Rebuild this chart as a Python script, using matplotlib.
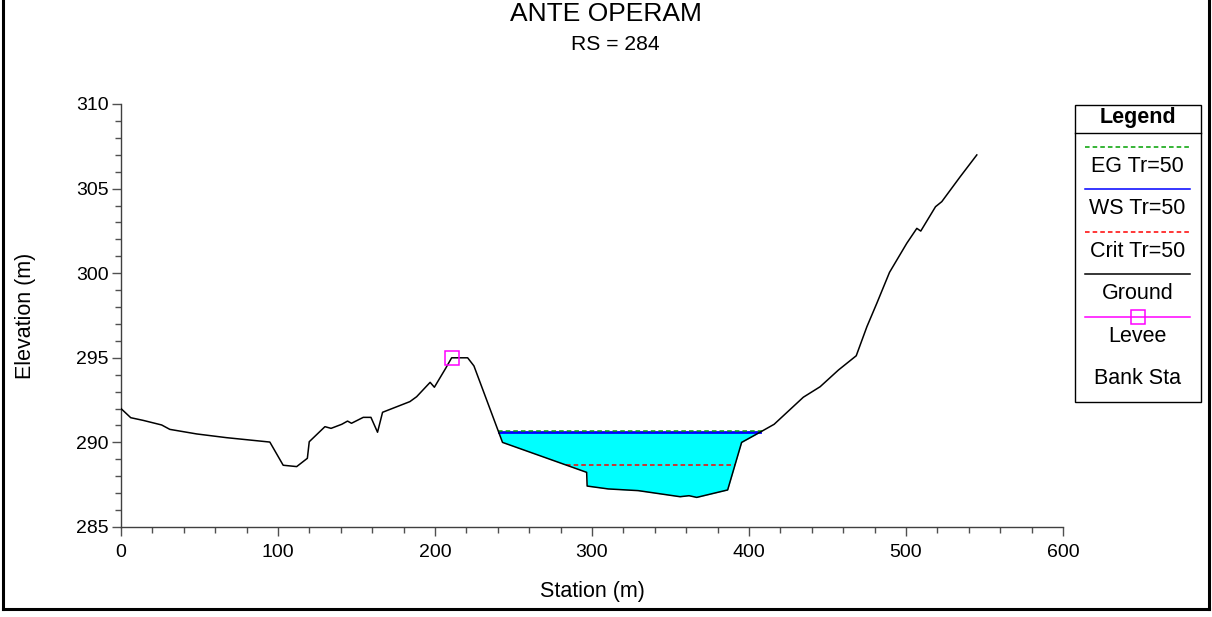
import numpy as np
import matplotlib
matplotlib.use("Agg")
import matplotlib.pyplot as plt
from matplotlib.lines import Line2D
from matplotlib.patches import Rectangle

plt.rcParams['font.family'] = ['Liberation Sans', 'DejaVu Sans']

# ---------------- data ----------------
title = "ANTE OPERAM"
subtitle = "RS = 284"
station = [0, 6.2, 14.2, 25.9, 31.1, 48.2, 67.2, 94.8, 103.3, 111.9, 118.7, 119.9,
           129.9, 133.8, 140.6, 144.3, 146.8, 154.3, 159.2, 163.4, 166.6, 184.0,
           188.3, 196.9, 199.6, 206.8, 210.6, 220.8, 224.8, 243.0, 296.6, 296.9,
           310.3, 329.4, 356.1, 361.8, 366.7, 386.4, 395.3, 407.0, 416.0, 434.6,
           445.3, 457.0, 468.3, 475.1, 481.4, 489.5, 500.5, 506.9, 509.4, 518.8,
           522.8, 534.5, 545.1]
ground = [292.0, 291.46, 291.3, 291.03, 290.77, 290.5, 290.28, 290.02, 288.65,
          288.57, 289.06, 290.04, 290.93, 290.83, 291.07, 291.26, 291.13, 291.48,
          291.48, 290.6, 291.78, 292.41, 292.7, 293.55, 293.26, 294.38, 295.0,
          295.0, 294.52, 290.0, 288.23, 287.42, 287.25, 287.15, 286.79, 286.85,
          286.75, 287.19, 290.0, 290.6, 291.07, 292.67, 293.29, 294.28, 295.12,
          296.84, 298.22, 300.05, 301.77, 302.65, 302.49, 303.93, 304.23, 305.70,
          306.99]
ws_elev = 290.60
eg_elev = 290.69
crit_elev = 288.66
channel_range = (230.0, 420.0)
levee_sta = [210.6]
levee_elev = [295.0]
legend_labels = ["EG Tr=50", "WS Tr=50", "Crit Tr=50", "Ground", "Levee", "Bank Sta"]

sta = np.array(station)
gr = np.array(ground)


def crossings(level):
    """Left/right stations where ground crosses level inside the channel."""
    lo, hi = channel_range
    xs = []
    for i in range(len(sta) - 1):
        x0, x1, y0, y1 = sta[i], sta[i + 1], gr[i], gr[i + 1]
        if x1 < lo or x0 > hi:
            continue
        if (y0 - level) * (y1 - level) <= 0 and y0 != y1:
            xs.append(x0 + (level - y0) * (x1 - x0) / (y1 - y0))
    return min(xs), max(xs)


# ---------------- figure ----------------
W, H = 1212, 617
fig = plt.figure(figsize=(W / 100, H / 100), dpi=100)
ax = fig.add_axes([121 / W, 1 - 527 / H, (1063 - 121) / W, (527 - 104) / H])

# water area
wl, wr = crossings(ws_elev)
xf = np.concatenate([[wl], sta[(sta > wl) & (sta < wr)], [wr]])
yf = np.interp(xf, sta, gr)
ax.fill_between(xf, yf, ws_elev, color='#00FFFF', lw=0, zorder=1)

ax.plot([wl, wr], [ws_elev, ws_elev], color='#0000FF', lw=2, zorder=3)
el, er = crossings(eg_elev)
ax.plot([el, er], [eg_elev, eg_elev], color='#00A000', lw=1.1,
        ls=(0, (3, 2)), zorder=4)
cl, cr = crossings(crit_elev)
ax.plot([cl, cr], [crit_elev, crit_elev], color='#FF0000', lw=1.1,
        ls=(0, (3, 2)), zorder=4)

ax.plot(sta, gr, color='black', lw=1.1, zorder=5)
ax.plot(levee_sta, levee_elev, ls='none', marker='s', ms=9.6, mfc='none',
        mec='#FF00FF', mew=1.1, zorder=6)

ax.set_xlim(0, 600)
ax.set_ylim(285, 310)
ax.set_xticks(np.arange(0, 601, 100))
ax.set_xticks(np.arange(0, 601, 20), minor=True)
ax.set_yticks(np.arange(285, 311, 5))
ax.set_yticks(np.arange(285, 311, 1), minor=True)
for s in ['top', 'right']:
    ax.spines[s].set_visible(False)
for s in ['left', 'bottom']:
    ax.spines[s].set_color('#404040')
    ax.spines[s].set_linewidth(1.0)
ax.tick_params(which='major', length=6.5, width=1, color='#505050', labelsize=14)
ax.tick_params(which='minor', length=4.2, width=1, color='#505050')
ax.tick_params(axis='x', which='major', pad=5.5)
ax.tick_params(axis='y', which='major', pad=2.2)

fig.text(592 / W, 1 - 597 / H, "Station (m)", ha='center', va='baseline', fontsize=15.5)
fig.text(25 / W, 1 - 315.5 / H, "Elevation (m)", ha='center', va='center',
         rotation=90, fontsize=15.5)
fig.text(606 / W, 1 - 21 / H, title, ha='center', va='baseline', fontsize=19)
fig.text(615 / W, 1 - 50 / H, subtitle, ha='center', va='baseline', fontsize=15.2)

# ---------------- legend (drawn in pixel-unit axes) ----------------
lax = fig.add_axes([1074 / W, 1 - 402 / H, (1201 - 1074) / W, (402 - 104) / H])
lax.set_xlim(1074, 1201)
lax.set_ylim(402, 104)
lax.axis('off')
lax.add_patch(Rectangle((1074.5, 104.5), 126, 297, fill=False, ec='black', lw=1,
                        clip_on=False))
lax.plot([1074.5, 1200.5], [133, 133], color='black', lw=1, clip_on=False)
lax.text(1137.5, 117, "Legend", ha='center', va='center', fontsize=15.5,
         fontweight='bold')
line_y = [147, 189, 232, 274, 317]
text_y = [166, 208, 251, 293, 336, 378]
styles = [dict(color='#00A000', ls=(0, (3, 2)), lw=1.1),
          dict(color='#0000FF', ls='-', lw=1.1),
          dict(color='#FF0000', ls=(0, (3, 2)), lw=1.1),
          dict(color='black', ls='-', lw=1.1),
          dict(color='#FF00FF', ls='-', lw=1.1)]
for yl, st in zip(line_y, styles):
    lax.plot([1085, 1190], [yl, yl], **st)
lax.plot([1137.5], [line_y[4]], ls='none', marker='s', ms=9.6, mfc='none',
         mec='#FF00FF', mew=1.1)
for yt, lab in zip(text_y, legend_labels):
    lax.text(1137.5, yt, lab, ha='center', va='center', fontsize=15.5)

# ---------------- figure border ----------------
for xs, ys in [([3 / W, 3 / W], [1, 1 - 609 / H]),
               ([1209 / W, 1209 / W], [1, 1 - 609 / H]),
               ([3 / W, 1209 / W], [1 - 609 / H, 1 - 609 / H])]:
    fig.add_artist(Line2D(xs, ys, color='black', lw=2.2, transform=fig.transFigure))

fig.savefig("out.png", dpi=100)
